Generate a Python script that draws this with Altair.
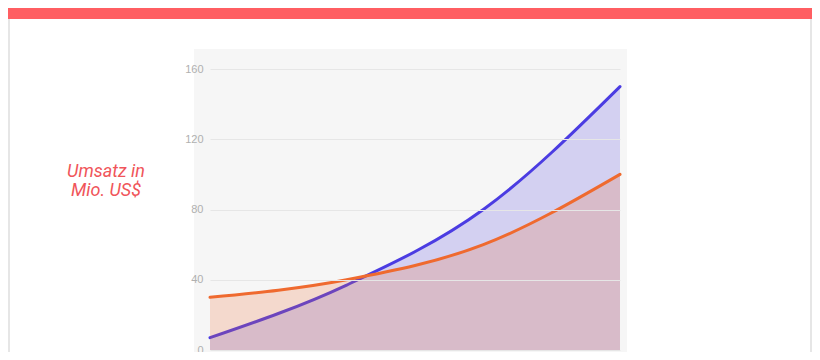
import altair as alt
import pandas as pd

# ---- data ----
years = [2016, 2017, 2018, 2019]
series_names = ["A", "B"]
values_a = [7, 37, 80, 150]     # blue / purple series
values_b = [30, 40, 60, 100]    # orange series
y_ticks = [0, 40, 80, 120, 160]
y_title_lines = ["Umsatz in", "Mio. US$"]

rows = []
for name, vals in zip(series_names, [values_a, values_b]):
    for yr, v in zip(years, vals):
        rows.append({"year": yr, "value": v, "series": name})
df = pd.DataFrame(rows)

blue = "#4b3ce2"
orange = "#ef6a2f"

W, H = 410, 281
PAD = {"left": 202, "top": 61, "right": 192, "bottom": 2}

one = pd.DataFrame({"_": [0]})

band = alt.Chart(one).mark_rect(color="#ff5e62").encode(
    x=alt.value(-PAD["left"]), x2=alt.value(W + PAD["right"]),
    y=alt.value(-PAD["top"] - 10), y2=alt.value(-50),
)
border_l = alt.Chart(one).mark_rule(color="#dedede", strokeWidth=1.5).encode(
    x=alt.value(-PAD["left"] + 1), y=alt.value(-50), y2=alt.value(H + PAD["bottom"] + 5)
)
border_r = alt.Chart(one).mark_rule(color="#dedede", strokeWidth=1.5).encode(
    x=alt.value(W + PAD["right"] - 1), y=alt.value(-50), y2=alt.value(H + PAD["bottom"] + 5)
)
panel = alt.Chart(one).mark_rect(color="#f6f6f6").encode(
    x=alt.value(-16), x2=alt.value(W + 7),
    y=alt.value(-20), y2=alt.value(H + PAD["bottom"] + 5),
)

xenc = alt.X("year:Q", scale=alt.Scale(domain=[years[0], years[-1]], nice=False, zero=False),
             axis=alt.Axis(values=years, format="d", title=None, grid=False, domain=False,
                           tickColor="#d8d8d8", tickSize=4, labelColor="#aaaaaa",
                           labelFontSize=11, labelFont="Helvetica, Arial"))
yenc = alt.Y("value:Q", scale=alt.Scale(domain=[y_ticks[0], y_ticks[-1]], nice=False),
             axis=alt.Axis(values=y_ticks, title=None, domain=False, ticks=False,
                           labelPadding=7, labelColor="#b0b0b0", labelFontSize=11,
                           labelFont="Helvetica, Arial",
                           gridColor="#e6e6e6", gridWidth=1, zindex=1))

base = alt.Chart(df)

area_a = base.transform_filter(alt.datum.series == "A").mark_area(
    interpolate="monotone", color=blue, opacity=0.2).encode(x=xenc, y=yenc)
line_a = base.transform_filter(alt.datum.series == "A").mark_line(
    interpolate="monotone", color=blue, strokeWidth=3, strokeCap="round").encode(
    x="year:Q", y="value:Q")
area_b = base.transform_filter(alt.datum.series == "B").mark_area(
    interpolate="monotone", color=orange, opacity=0.2).encode(x="year:Q", y="value:Q")
line_b = base.transform_filter(alt.datum.series == "B").mark_line(
    interpolate="monotone", color=orange, strokeWidth=3, strokeCap="round").encode(
    x="year:Q", y="value:Q")

label = alt.Chart(pd.DataFrame({"t": [y_title_lines]})).mark_text(
    font="Roboto", fontStyle="italic", fontSize=18, color="#f0555a",
    align="center", baseline="middle", lineHeight=19,
).encode(x=alt.value(-104), y=alt.value(103), text="t")

chart = alt.layer(
    band, border_l, border_r, panel, area_a, line_a, area_b, line_b, label
).properties(
    width=W, height=H,
    autosize=alt.AutoSizeParams(type="none"),
    padding=PAD,
    background="white",
).configure_view(stroke=None)

chart.save("out.html", embed_options={"renderer": "svg", "actions": False})
